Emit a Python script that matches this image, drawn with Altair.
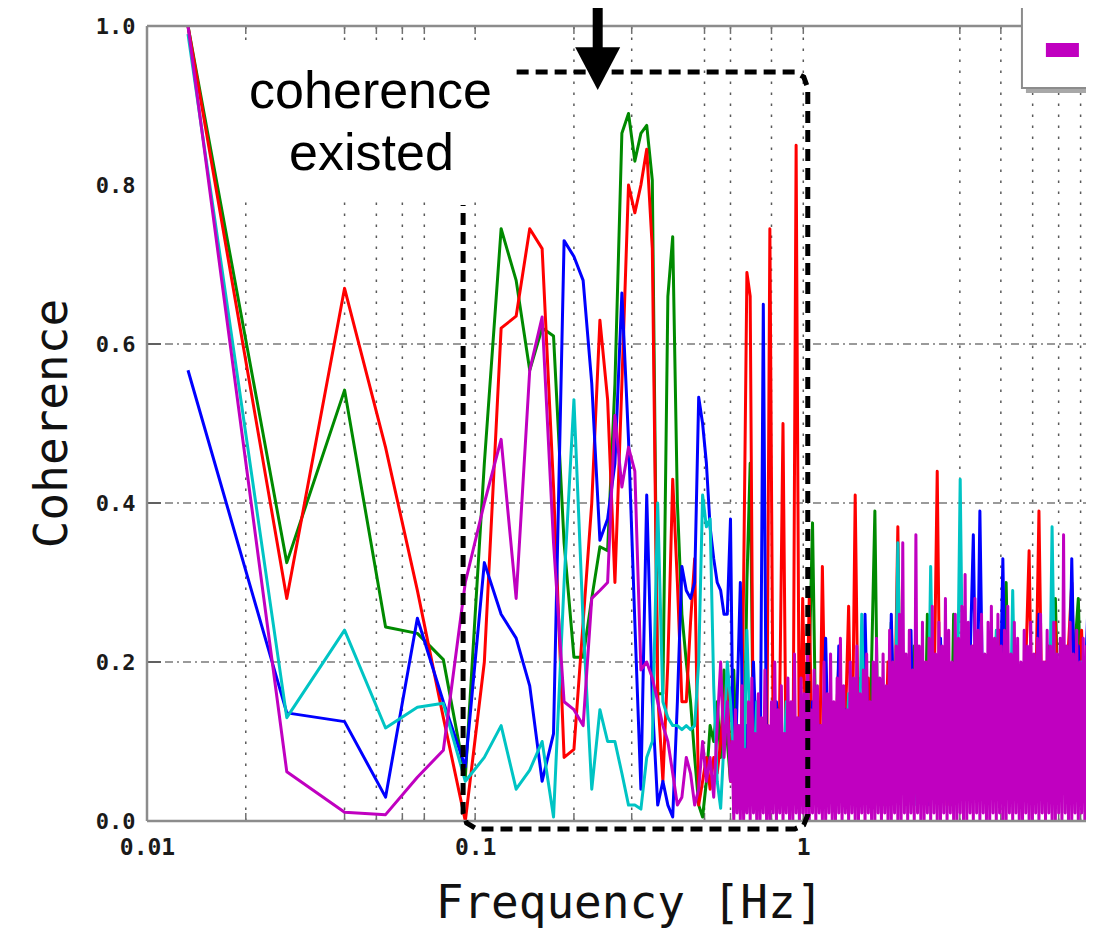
import altair as alt
import pandas as pd

# ---------------- sample grids (Hz) ----------------
freq_low = [k / 75 for k in range(1, 46)]                     # 1/75 Hz resolution up to 0.6 Hz
freq_high = [0.6 * 10 ** (0.01 * i) for i in range(1, 111)]   # 0.6 .. 7.6 Hz
freq_mag = [0.6 * 10 ** (0.005 * i) for i in range(1, 221)]   # finer grid for the magenta trace

# ---------------- coherence values ----------------
red_low = [1.00, 0.28, 0.67, 0.47, 0.29, 0.13, 0.00, 0.20, 0.62, 0.635,
           0.745, 0.72, 0.42, 0.08, 0.09, 0.25, 0.40, 0.63, 0.53, 0.30,
           0.55, 0.80, 0.765, 0.80, 0.845, 0.72, 0.16, 0.05, 0.20, 0.43,
           0.30, 0.15, 0.15, 0.25, 0.33, 0.02, 0.05, 0.08, 0.04, 0.08,
           0.06, 0.10, 0.15, 0.18, 0.05]
red_high = [0.05, 0.10, 0.02, 0.30, 0.69, 0.66, 0.05, 0.12, 0.03, 0.08,
            0.02, 0.745, 0.10, 0.03, 0.15, 0.50, 0.04, 0.06, 0.02, 0.85,
            0.05, 0.28, 0.08, 0.28, 0.05, 0.12, 0.02, 0.32, 0.08, 0.15,
            0.03, 0.10, 0.20, 0.05, 0.12, 0.27, 0.04, 0.41, 0.08, 0.15,
            0.03, 0.18, 0.06, 0.10, 0.02, 0.16, 0.05, 0.20, 0.08, 0.12,
            0.37, 0.05, 0.14, 0.03, 0.10, 0.06, 0.18, 0.04, 0.12, 0.20,
            0.05, 0.14, 0.44, 0.06, 0.10, 0.02, 0.15, 0.08, 0.12, 0.03,
            0.18, 0.06, 0.13, 0.22, 0.04, 0.12, 0.08, 0.16, 0.03, 0.20,
            0.10, 0.24, 0.06, 0.15, 0.10, 0.22, 0.05, 0.18, 0.12, 0.20,
            0.34, 0.08, 0.15, 0.39, 0.10, 0.20, 0.07, 0.17, 0.25, 0.12,
            0.20, 0.08, 0.22, 0.30, 0.12, 0.18, 0.24, 0.10, 0.27, 0.15]

green_low = [1.00, 0.325, 0.542, 0.244, 0.236, 0.203, 0.055, 0.45, 0.745, 0.68,
             0.567, 0.62, 0.61, 0.35, 0.206, 0.206, 0.28, 0.345, 0.34, 0.55,
             0.865, 0.89, 0.83, 0.865, 0.875, 0.806, 0.16, 0.16, 0.66, 0.735,
             0.40, 0.26, 0.20, 0.15, 0.08, 0.02, 0.005, 0.05, 0.12, 0.10,
             0.15, 0.08, 0.19, 0.10, 0.05]
green_high = [0.19, 0.05, 0.10, 0.02, 0.30, 0.45, 0.08, 0.03, 0.12, 0.05,
              0.10, 0.03, 0.15, 0.06, 0.02, 0.10, 0.04, 0.08, 0.02, 0.12,
              0.03, 0.15, 0.06, 0.20, 0.375, 0.10, 0.05, 0.12, 0.02, 0.08,
              0.14, 0.04, 0.10, 0.06, 0.15, 0.03, 0.12, 0.05, 0.18, 0.08,
              0.12, 0.03, 0.20, 0.39, 0.06, 0.14, 0.02, 0.10, 0.25, 0.05,
              0.12, 0.08, 0.15, 0.02, 0.10, 0.22, 0.07, 0.12, 0.04, 0.26,
              0.08, 0.12, 0.03, 0.15, 0.06, 0.10, 0.02, 0.26, 0.08, 0.14,
              0.05, 0.12, 0.03, 0.18, 0.08, 0.14, 0.04, 0.12, 0.20, 0.06,
              0.12, 0.04, 0.18, 0.30, 0.10, 0.16, 0.05, 0.14, 0.08, 0.20,
              0.06, 0.13, 0.04, 0.18, 0.10, 0.15, 0.22, 0.08, 0.28, 0.12,
              0.20, 0.06, 0.16, 0.10, 0.22, 0.28, 0.12, 0.20, 0.08, 0.18]

blue_low = [0.567, 0.136, 0.125, 0.030, 0.255, 0.15, 0.068, 0.325, 0.26, 0.23,
            0.17, 0.05, 0.11, 0.73, 0.71, 0.68, 0.55, 0.353, 0.38, 0.45,
            0.664, 0.48, 0.25, 0.04, 0.41, 0.15, 0.02, 0.05, 0.02, 0.005,
            0.15, 0.32, 0.29, 0.28, 0.30, 0.533, 0.50, 0.45, 0.37, 0.33,
            0.30, 0.29, 0.26, 0.26, 0.38]
blue_high = [0.01, 0.15, 0.30, 0.05, 0.12, 0.03, 0.20, 0.08, 0.02, 0.65,
             0.05, 0.10, 0.03, 0.15, 0.06, 0.02, 0.12, 0.05, 0.10, 0.03,
             0.08, 0.02, 0.10, 0.05, 0.15, 0.03, 0.12, 0.06, 0.23, 0.04,
             0.10, 0.02, 0.22, 0.08, 0.14, 0.03, 0.10, 0.06, 0.12, 0.04,
             0.26, 0.08, 0.12, 0.03, 0.10, 0.06, 0.15, 0.02, 0.26, 0.08,
             0.12, 0.04, 0.10, 0.06, 0.24, 0.03, 0.10, 0.06, 0.14, 0.02,
             0.12, 0.05, 0.10, 0.23, 0.04, 0.12, 0.06, 0.15, 0.03, 0.10,
             0.05, 0.12, 0.20, 0.36, 0.08, 0.39, 0.10, 0.04, 0.15, 0.06,
             0.22, 0.10, 0.33, 0.08, 0.14, 0.04, 0.12, 0.06, 0.15, 0.10,
             0.20, 0.05, 0.14, 0.26, 0.08, 0.12, 0.04, 0.18, 0.10, 0.15,
             0.06, 0.20, 0.10, 0.33, 0.12, 0.22, 0.08, 0.16, 0.28, 0.12]

cyan_low = [0.99, 0.13, 0.24, 0.117, 0.143, 0.148, 0.05, 0.08, 0.12, 0.04,
            0.064, 0.10, 0.005, 0.30, 0.53, 0.25, 0.04, 0.14, 0.10, 0.10,
            0.06, 0.02, 0.02, 0.015, 0.08, 0.10, 0.40, 0.15, 0.13, 0.12,
            0.12, 0.115, 0.12, 0.115, 0.12, 0.20, 0.41, 0.37, 0.38, 0.17,
            0.05, 0.016, 0.10, 0.20, 0.15]
cyan_high = [0.08, 0.03, 0.12, 0.05, 0.24, 0.10, 0.04, 0.15, 0.06, 0.02,
             0.10, 0.04, 0.08, 0.02, 0.12, 0.05, 0.15, 0.08, 0.03, 0.10,
             0.05, 0.12, 0.04, 0.10, 0.06, 0.15, 0.02, 0.10, 0.06, 0.14,
             0.03, 0.12, 0.05, 0.10, 0.04, 0.16, 0.06, 0.10, 0.03, 0.26,
             0.08, 0.12, 0.04, 0.10, 0.15, 0.05, 0.12, 0.03, 0.10, 0.06,
             0.35, 0.08, 0.12, 0.04, 0.10, 0.02, 0.15, 0.06, 0.10, 0.04,
             0.32, 0.08, 0.12, 0.03, 0.10, 0.05, 0.14, 0.06, 0.10, 0.43,
             0.08, 0.12, 0.04, 0.10, 0.06, 0.15, 0.03, 0.10, 0.05, 0.12,
             0.24, 0.06, 0.10, 0.14, 0.05, 0.29, 0.08, 0.12, 0.04, 0.10,
             0.15, 0.06, 0.12, 0.04, 0.10, 0.18, 0.06, 0.37, 0.10, 0.14,
             0.05, 0.12, 0.20, 0.08, 0.15, 0.10, 0.20, 0.06, 0.14, 0.20]

magenta_low = [1.00, 0.062, 0.011, 0.008, 0.055, 0.089, 0.30, 0.40, 0.48, 0.28,
               0.567, 0.634, 0.35, 0.15, 0.14, 0.12, 0.28, 0.29, 0.30, 0.51,
               0.42, 0.47, 0.44, 0.19, 0.20, 0.18, 0.15, 0.12, 0.10, 0.06,
               0.02, 0.03, 0.08, 0.06, 0.02, 0.04, 0.10, 0.05, 0.08, 0.03,
               0.12, 0.20, 0.08, 0.15, 0.05]
magenta_high = [0.10, 0.00, 0.14, 0.01, 0.12, 0.00, 0.17, 0.00, 0.09, 0.01,
                0.15, 0.00, 0.18, 0.01, 0.11, 0.00, 0.16, 0.00, 0.13, 0.01,
                0.19, 0.00, 0.12, 0.00, 0.15, 0.01, 0.20, 0.00, 0.14, 0.01,
                0.17, 0.00, 0.11, 0.01, 0.18, 0.00, 0.15, 0.00, 0.21, 0.01,
                0.13, 0.00, 0.18, 0.01, 0.16, 0.00, 0.22, 0.00, 0.14, 0.01,
                0.19, 0.00, 0.17, 0.01, 0.12, 0.00, 0.20, 0.00, 0.16, 0.01,
                0.21, 0.00, 0.15, 0.00, 0.18, 0.01, 0.23, 0.00, 0.17, 0.01,
                0.14, 0.00, 0.20, 0.01, 0.18, 0.00, 0.22, 0.00, 0.16, 0.01,
                0.19, 0.00, 0.21, 0.01, 0.15, 0.00, 0.20, 0.00, 0.23, 0.01,
                0.18, 0.00, 0.21, 0.01, 0.17, 0.00, 0.24, 0.00, 0.20, 0.01,
                0.22, 0.00, 0.26, 0.00, 0.35, 0.01, 0.21, 0.00, 0.24, 0.01,
                0.19, 0.00, 0.36, 0.01, 0.22, 0.00, 0.25, 0.00, 0.20, 0.01,
                0.23, 0.00, 0.27, 0.01, 0.21, 0.00, 0.25, 0.00, 0.22, 0.01,
                0.28, 0.00, 0.24, 0.01, 0.20, 0.00, 0.26, 0.00, 0.23, 0.01,
                0.27, 0.00, 0.31, 0.00, 0.25, 0.01, 0.22, 0.00, 0.28, 0.01,
                0.24, 0.00, 0.26, 0.01, 0.21, 0.00, 0.25, 0.00, 0.27, 0.01,
                0.23, 0.00, 0.26, 0.01, 0.22, 0.00, 0.24, 0.00, 0.27, 0.01,
                0.21, 0.00, 0.25, 0.01, 0.23, 0.00, 0.20, 0.00, 0.24, 0.01,
                0.22, 0.00, 0.25, 0.00, 0.21, 0.01, 0.23, 0.00, 0.26, 0.01,
                0.20, 0.00, 0.24, 0.01, 0.22, 0.00, 0.25, 0.00, 0.21, 0.01,
                0.23, 0.00, 0.36, 0.01, 0.22, 0.00, 0.25, 0.00, 0.21, 0.01,
                0.24, 0.00, 0.20, 0.01, 0.23, 0.00, 0.22, 0.00, 0.25, 0.01]

series = [  # drawing order: first is at the bottom
    ("green", "#008a00", green_low, freq_high, green_high),
    ("red", "#ff0000", red_low, freq_high, red_high),
    ("blue", "#0000ff", blue_low, freq_high, blue_high),
    ("cyan", "#00c4c4", cyan_low, freq_high, cyan_high),
    ("magenta", "#c000c0", magenta_low, freq_mag, magenta_high),
]

# ---------------- axes / grid ----------------
x_ticks = [0.01, 0.1, 1]
y_ticks = [0.0, 0.2, 0.4, 0.6, 0.8, 1.0]
x_grid = [0.02, 0.04, 0.05, 0.06, 0.07, 0.1, 0.2, 0.3, 0.5, 0.6, 0.8, 1, 3, 4, 5, 6, 7]
y_grid = [0.2, 0.4, 0.6]
XMIN, XMAX = 0.01, 7.27

# ---------------- annotations (data units) ----------------
note_lines = ["coherence", "existed"]
note_x = [0.048, 0.0483]
note_y = [0.8969, 0.8189]
note_bg = dict(x=0.0191, x2=0.1256, y=0.787, y2=0.976)
box_x = [0.1338, 0.9421, 1.0035, 1.032, 1.032, 1.0035, 0.9421, 0.1011, 0.0942, 0.0919, 0.0919]
box_y = [0.9421, 0.9421, 0.9358, 0.922, 0.0075, -0.005, -0.01, -0.01, -0.0025, 0.01, 0.7748]
arrow = dict(x=0.2363, y_top=1.04, y_head=0.965, head_y=0.9465)
legend_shadow = dict(x=4.77, x2=9.0, y=0.9157, y2=1.05)
legend_box = dict(x=4.638, x2=9.0, y=0.922, y2=1.05)
legend_swatch = dict(x=5.487, x2=6.917, y=0.961, y2=0.9786)
frame = dict(x0=XMIN, x1=XMAX, top=1.0, bottom=0.0)

xscale = alt.Scale(type="log", domain=[XMIN, XMAX])
yscale = alt.Scale(domain=[0, 1], nice=False, zero=False)

MONO = "DejaVu Sans Mono"
xaxis = alt.Axis(values=x_ticks, format="~g", labelFont=MONO, labelFontSize=23,
                 labelFontWeight="bold", labelColor="#1a1a1a", labelPadding=15,
                 labelFlush=False, labelOverlap=False,
                 ticks=False, domain=False, grid=False,
                 title="Frequency [Hz]", titleFont=MONO, titleFontSize=46,
                 titleFontWeight="normal", titleColor="#111111",
                 titleX=482, titleY=96, titleAlign="center", titleBaseline="alphabetic")
yaxis = alt.Axis(values=y_ticks, format=".1f", labelFont=MONO, labelFontSize=22,
                 labelFontWeight="bold", labelColor="#1a1a1a", labelPadding=12,
                 labelFlush=False, labelOverlap=False,
                 ticks=False, domain=False, grid=False,
                 title="Coherence", titleFont=MONO, titleFontSize=46,
                 titleFontWeight="normal", titleColor="#111111",
                 titleX=-95, titleY=397, titleAngle=270, titleAlign="center",
                 titleBaseline="middle")


def X(f):
    return alt.X(f, scale=xscale, axis=xaxis)


def Y(f):
    return alt.Y(f, scale=yscale, axis=yaxis)


layers = []

# vertical dotted grid
vg = pd.DataFrame({"gx": x_grid, "y0": 0.0, "y1": 1.0})
layers.append(alt.Chart(vg).mark_rule(color="#5a5a5a", strokeWidth=1.5, strokeDash=[2.5, 8.5])
              .encode(x=X("gx:Q"), y=Y("y0:Q"), y2="y1:Q"))
# horizontal dash-dot grid
hg = pd.DataFrame({"gy": y_grid, "x0": XMIN, "x1": XMAX})
layers.append(alt.Chart(hg).mark_rule(color="#7a7a7a", strokeWidth=1.5, strokeDash=[8, 4, 2, 4])
              .encode(x=X("x0:Q"), x2="x1:Q", y=Y("gy:Q")))
# short solid ticks on the frame
tt = pd.DataFrame({"gx": x_grid, "a": 1.0, "b": 0.99, "c": 0.0, "d": 0.01})
layers.append(alt.Chart(tt).mark_rule(color="#707070", strokeWidth=1.5)
              .encode(x=X("gx:Q"), y=Y("a:Q"), y2="b:Q"))
layers.append(alt.Chart(tt).mark_rule(color="#707070", strokeWidth=1.5)
              .encode(x=X("gx:Q"), y=Y("c:Q"), y2="d:Q"))
lt = pd.DataFrame({"gy": y_grid, "x0": XMIN, "x1": 0.01103})
layers.append(alt.Chart(lt).mark_rule(color="#606060", strokeWidth=2)
              .encode(x=X("x0:Q"), x2="x1:Q", y=Y("gy:Q")))

# white backdrop behind the note
layers.append(alt.Chart(pd.DataFrame([note_bg])).mark_rect(color="white")
              .encode(x=X("x:Q"), x2="x2:Q", y=Y("y:Q"), y2="y2:Q"))

# data lines
for name, color, low, fgrid, high in series:
    assert len(low) == len(freq_low) and len(high) == len(fgrid), name
    df = pd.DataFrame({"freq": freq_low + fgrid, "coh": low + high})
    df["idx"] = range(len(df))
    layers.append(alt.Chart(df).mark_line(color=color, strokeWidth=3, clip=True,
                                          strokeJoin="round")
                  .encode(x=X("freq:Q"), y=Y("coh:Q"), order="idx:Q"))

# plot frame (left, top, bottom; right side is outside the crop)
fr = pd.DataFrame([frame])
layers.append(alt.Chart(fr).mark_rule(color="#8c8c8c", strokeWidth=2.5)
              .encode(x=X("x0:Q"), x2="x1:Q", y=Y("top:Q")))
layers.append(alt.Chart(fr).mark_rule(color="#8c8c8c", strokeWidth=2.5)
              .encode(x=X("x0:Q"), x2="x1:Q", y=Y("bottom:Q")))
layers.append(alt.Chart(fr).mark_rule(color="#8c8c8c", strokeWidth=2.5)
              .encode(x=X("x0:Q"), y=Y("bottom:Q"), y2="top:Q"))

# dashed rounded box
bx = pd.DataFrame({"x": box_x, "y": box_y, "o": range(len(box_x))})
layers.append(alt.Chart(bx).mark_line(color="black", strokeWidth=5, strokeDash=[12, 7],
                                      clip=False)
              .encode(x=X("x:Q"), y=Y("y:Q"), order="o:Q"))

# note text
nt = pd.DataFrame({"t": note_lines, "x": note_x, "y": note_y})
layers.append(alt.Chart(nt).mark_text(font="Liberation Sans", fontSize=52, align="center",
                                      baseline="alphabetic", color="black")
              .encode(x=X("x:Q"), y=Y("y:Q"), text="t:N"))

# arrow
ar = pd.DataFrame([arrow])
layers.append(alt.Chart(ar).mark_rule(color="black", strokeWidth=10)
              .encode(x=X("x:Q"), y=Y("y_top:Q"), y2="y_head:Q"))
layers.append(alt.Chart(ar).mark_point(shape="M-1,-0.95L1,-0.95L0,0.95Z", size=2025,
                                       filled=True, color="black", opacity=1, strokeWidth=0)
              .encode(x=X("x:Q"), y=Y("head_y:Q")))

# legend fragment (upper right, cropped)
layers.append(alt.Chart(pd.DataFrame([legend_shadow])).mark_rect(color="#a8a8a8")
              .encode(x=X("x:Q"), x2="x2:Q", y=Y("y:Q"), y2="y2:Q"))
layers.append(alt.Chart(pd.DataFrame([legend_box])).mark_rect(fill="white", stroke="#8c8c8c",
                                                              strokeWidth=2)
              .encode(x=X("x:Q"), x2="x2:Q", y=Y("y:Q"), y2="y2:Q"))
layers.append(alt.Chart(pd.DataFrame([legend_swatch])).mark_rect(color="#c000c0")
              .encode(x=X("x:Q"), x2="x2:Q", y=Y("y:Q"), y2="y2:Q"))

chart = (alt.layer(*layers)
         .properties(width=939, height=795,
                     autosize=alt.AutoSizeParams(type="none"),
                     padding={"left": 139, "top": 18, "right": 0, "bottom": 107})
         .configure_view(strokeWidth=0))

chart.save("out.html", embed_options={"renderer": "svg", "actions": False})
